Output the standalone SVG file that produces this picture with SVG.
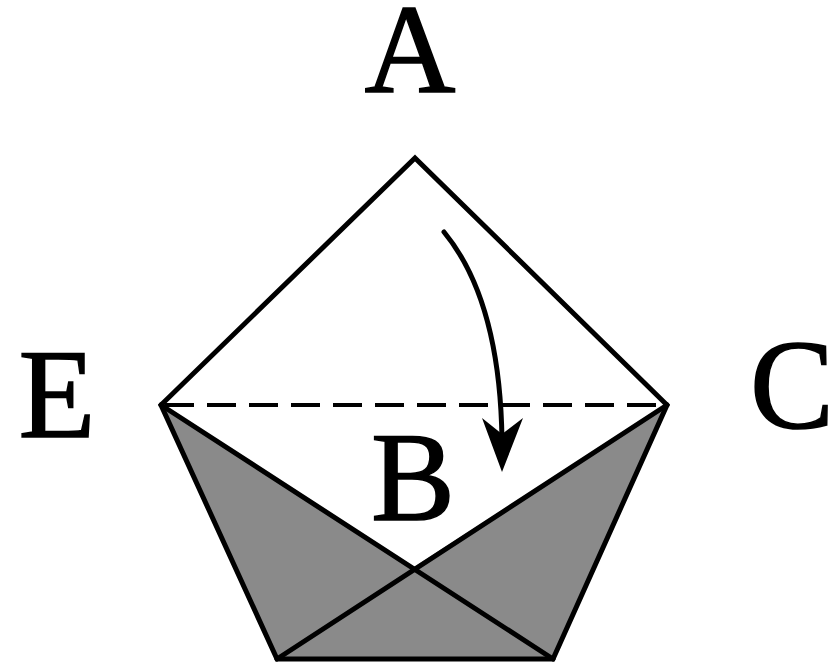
<svg xmlns="http://www.w3.org/2000/svg" width="835" height="662" viewBox="0 0 835 662">
<style>
.lbl{font-family:"Liberation Serif","Times New Roman",serif;font-size:126px;fill:#000;stroke:#000;stroke-width:1.5;text-anchor:middle}
.ln{fill:none;stroke:#000;stroke-width:5;stroke-linejoin:miter;stroke-linecap:round}
.dash{fill:none;stroke:#000;stroke-width:4;stroke-dasharray:29 13}
.shade{fill:#8a8a8a;stroke:none}
</style>
<rect width="835" height="662" fill="#fff"/>
<g id="shading">
<polygon class="shade" points="161,405 412,568 667,405 553,659 277,659"/>
</g>
<g id="figure">
<polygon class="ln" points="415,158 667,405 553,659 277,659 161,405"/>
<line class="ln" x1="161" y1="405" x2="553" y2="659"/>
<line class="ln" x1="667" y1="405" x2="277" y2="659"/>
<line class="dash" x1="165" y1="405" x2="667" y2="405"/>
</g>
<g id="connectors">
<path class="ln" d="M444,232 Q500,300 502,440"/>
<polygon points="502,472 482,418 502,434 523,418" fill="#000"/>
</g>
<g id="labels">
<text id="A" class="lbl" x="410" y="92">A</text>
<text id="E" class="lbl" x="57" y="437">E</text>
<text id="C" class="lbl" x="792" y="428">C</text>
<text id="B" class="lbl" x="413" y="520">B</text>
</g>
</svg>
